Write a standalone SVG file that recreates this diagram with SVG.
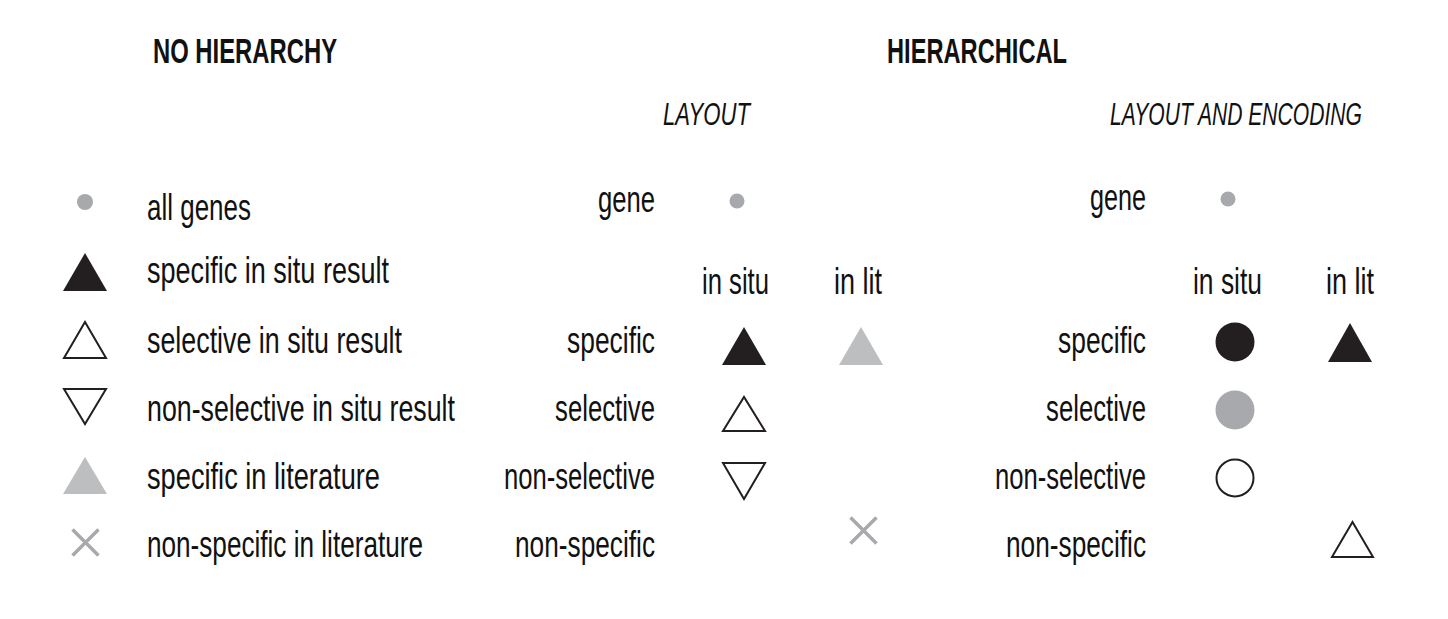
<svg xmlns="http://www.w3.org/2000/svg" width="1448" height="619" viewBox="0 0 1448 619">
  <style>
    .t { font-family: "Liberation Sans Narrow", "Liberation Sans", Arial, sans-serif; font-size: 37px; fill: #111; }
    .r { text-anchor: end; }
    .h { font-family: "Liberation Sans Narrow", "Liberation Sans", Arial, sans-serif; font-size: 36px; font-weight: bold; fill: #111; }
    .i { font-family: "Liberation Sans Narrow", "Liberation Sans", Arial, sans-serif; font-size: 32px; font-style: italic; fill: #111; }
    .blk { fill: #231f20; }
    .gry { fill: #a7a9ac; }
    .lgt { fill: #bcbec0; }
    .out { fill: none; stroke: #231f20; stroke-width: 2; stroke-linejoin: miter; }
    .x { stroke: #a7a9ac; stroke-width: 3.5; fill: none; }
  </style>
  <defs>
    <g id="cross"><path class="x" d="M-13,-13 L13,13 M13,-13 L-13,13"/></g>
  </defs>
  <rect width="1448" height="619" fill="#ffffff"/>

  <!-- section headings (condensed by horizontal scaling) -->
  <g id="headings">
    <text class="h" transform="translate(153,63) scale(0.81,1)" textLength="227.2" lengthAdjust="spacingAndGlyphs">NO HIERARCHY</text>
    <text class="h" transform="translate(887,63) scale(0.81,1)" textLength="222.2" lengthAdjust="spacingAndGlyphs">HIERARCHICAL</text>
    <text class="i" transform="translate(663,125) scale(0.81,1)" textLength="107.4" lengthAdjust="spacingAndGlyphs">LAYOUT</text>
    <text class="i" transform="translate(1110,125) scale(0.81,1)" textLength="311.1" lengthAdjust="spacingAndGlyphs">LAYOUT AND ENCODING</text>
  </g>

  <!-- flat legend -->
  <g id="legend-all-genes">
    <circle class="gry" cx="85" cy="202" r="8"/>
    <text class="t" transform="translate(147,220) scale(0.87,1)" textLength="119.5" lengthAdjust="spacingAndGlyphs">all genes</text>
  </g>
  <g id="legend-specific-in-situ">
    <polygon class="blk" points="63,291 107,291 85,253"/>
    <text class="t" transform="translate(147,283) scale(0.87,1)" textLength="278.2" lengthAdjust="spacingAndGlyphs">specific in situ result</text>
  </g>
  <g id="legend-selective-in-situ">
    <polygon class="out" points="64,358 106,358 85,322"/>
    <text class="t" transform="translate(147,353) scale(0.87,1)" textLength="293.1" lengthAdjust="spacingAndGlyphs">selective in situ result</text>
  </g>
  <g id="legend-non-selective-in-situ">
    <polygon class="out" points="64,389 106,389 85,424"/>
    <text class="t" transform="translate(147,421) scale(0.87,1)" textLength="354" lengthAdjust="spacingAndGlyphs">non-selective in situ result</text>
  </g>
  <g id="legend-specific-in-lit">
    <polygon class="lgt" points="63,494 107,494 85,457"/>
    <text class="t" transform="translate(147,489) scale(0.87,1)" textLength="267.8" lengthAdjust="spacingAndGlyphs">specific in literature</text>
  </g>
  <g id="legend-non-specific-in-lit">
    <use href="#cross" x="85.5" y="542.5"/>
    <text class="t" transform="translate(147,557) scale(0.87,1)" textLength="317.2" lengthAdjust="spacingAndGlyphs">non-specific in literature</text>
  </g>

  <!-- hierarchical: layout -->
  <g id="layout-labels">
    <text class="t r" transform="translate(655,212) scale(0.87,1)" textLength="65.5" lengthAdjust="spacingAndGlyphs">gene</text>
    <text class="t" transform="translate(702,294) scale(0.87,1)" textLength="77" lengthAdjust="spacingAndGlyphs">in situ</text>
    <text class="t" transform="translate(834,294) scale(0.87,1)" textLength="55.2" lengthAdjust="spacingAndGlyphs">in lit</text>
    <text class="t r" transform="translate(655,353) scale(0.87,1)" textLength="101.1" lengthAdjust="spacingAndGlyphs">specific</text>
    <text class="t r" transform="translate(655,421) scale(0.87,1)" textLength="114.9" lengthAdjust="spacingAndGlyphs">selective</text>
    <text class="t r" transform="translate(655,489) scale(0.87,1)" textLength="173.6" lengthAdjust="spacingAndGlyphs">non-selective</text>
    <text class="t r" transform="translate(655,557) scale(0.87,1)" textLength="160.9" lengthAdjust="spacingAndGlyphs">non-specific</text>
  </g>
  <g id="layout-gene"><circle class="gry" cx="737" cy="201" r="7.5"/></g>
  <g id="layout-specific-in-situ"><polygon class="blk" points="722,365 766,365 744,327"/></g>
  <g id="layout-specific-in-lit"><polygon class="lgt" points="839,365 883,365 861,327"/></g>
  <g id="layout-selective-in-situ"><polygon class="out" points="723,431 765,431 744,397"/></g>
  <g id="layout-non-selective-in-situ"><polygon class="out" points="723,463 765,463 744,499"/></g>
  <g id="layout-non-specific-in-lit"><use href="#cross" x="863.5" y="530.5"/></g>

  <!-- hierarchical: layout and encoding -->
  <g id="encoding-labels">
    <text class="t r" transform="translate(1146,210) scale(0.87,1)" textLength="64.4" lengthAdjust="spacingAndGlyphs">gene</text>
    <text class="t" transform="translate(1193,294) scale(0.87,1)" textLength="79.3" lengthAdjust="spacingAndGlyphs">in situ</text>
    <text class="t" transform="translate(1326,294) scale(0.87,1)" textLength="55.2" lengthAdjust="spacingAndGlyphs">in lit</text>
    <text class="t r" transform="translate(1146,353) scale(0.87,1)" textLength="101.1" lengthAdjust="spacingAndGlyphs">specific</text>
    <text class="t r" transform="translate(1146,421) scale(0.87,1)" textLength="114.9" lengthAdjust="spacingAndGlyphs">selective</text>
    <text class="t r" transform="translate(1146,489) scale(0.87,1)" textLength="173.6" lengthAdjust="spacingAndGlyphs">non-selective</text>
    <text class="t r" transform="translate(1146,557) scale(0.87,1)" textLength="160.9" lengthAdjust="spacingAndGlyphs">non-specific</text>
  </g>
  <g id="encoding-gene"><circle class="gry" cx="1228" cy="199" r="7.5"/></g>
  <g id="encoding-specific-in-situ"><circle class="blk" cx="1235" cy="342" r="19.5"/></g>
  <g id="encoding-specific-in-lit"><polygon class="blk" points="1328,362 1372,362 1350,323"/></g>
  <g id="encoding-selective-in-situ"><circle class="gry" cx="1235" cy="410" r="19.5"/></g>
  <g id="encoding-non-selective-in-situ"><circle class="out" cx="1235" cy="478" r="18.5"/></g>
  <g id="encoding-non-specific-in-lit"><polygon class="out" points="1332,557 1373,557 1352.5,522"/></g>

  <g id="connectors"></g>
</svg>
